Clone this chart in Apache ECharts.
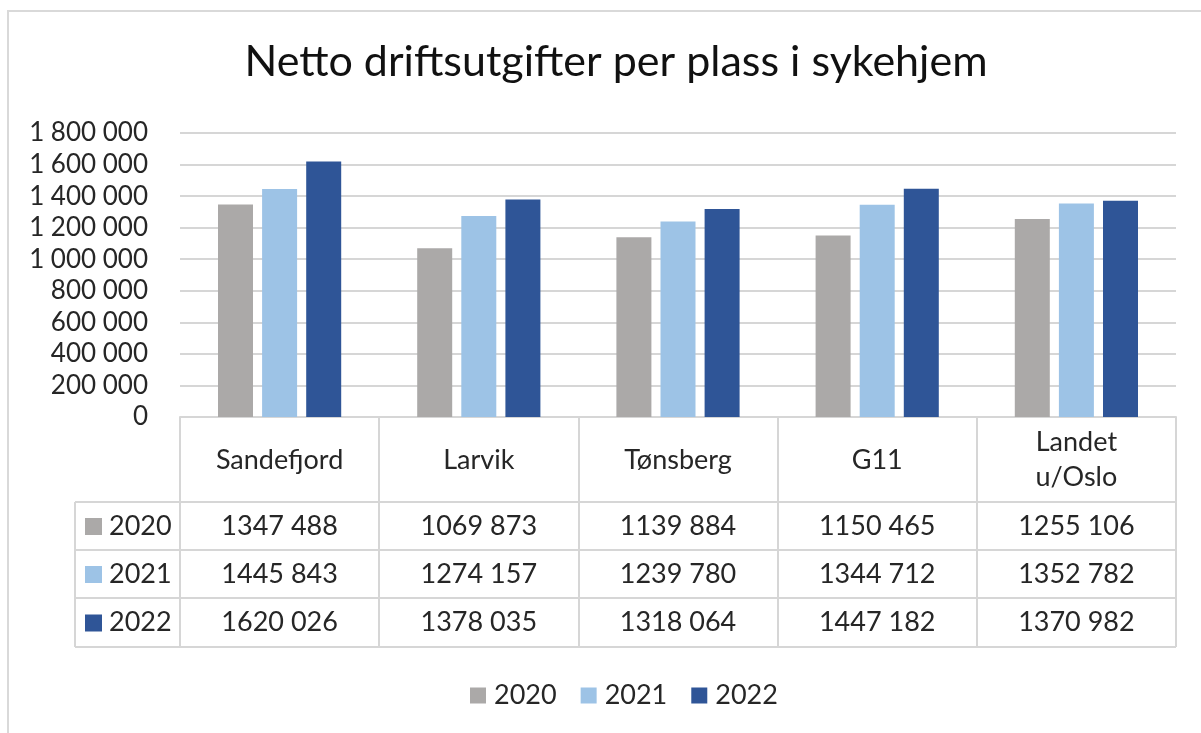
<!DOCTYPE html>
<html>
<head>
<meta charset="utf-8">
<script src="https://cdn.jsdelivr.net/npm/echarts@6/dist/echarts.min.js"></script>
<style>
html,body{margin:0;padding:0;background:#fff;}
#chart{width:1201px;height:733px;}
</style>
</head>
<body>
<div id="chart"></div>
<script>
const titleText = 'Netto driftsutgifter per plass i sykehjem';
const categories = ['Sandefjord', 'Larvik', 'Tønsberg', 'G11', 'Landet\nu/Oslo'];
const seriesNames = ['2020', '2021', '2022'];
const values2020 = [1347488, 1069873, 1139884, 1150465, 1255106];
const values2021 = [1445843, 1274157, 1239780, 1344712, 1352782];
const values2022 = [1620026, 1378035, 1318064, 1447182, 1370982];
const seriesColors = ['#ABA9A8', '#9DC3E6', '#2F5597'];
const yMin = 0, yMax = 1800000, yInterval = 200000;

const allValues = [values2020, values2021, values2022];
const FONT = 'Lato';
const TXT = '#262626';
const LINE = '#d6d6d6';

function fmtAxis(n) {
  return String(n).replace(/\B(?=(\d{3})+(?!\d))/g, ' ');
}
function fmtTable(n) {
  const s = String(n);
  return s.length > 3 ? s.slice(0, s.length - 3) + ' ' + s.slice(-3) : s;
}

const chart = echarts.init(document.getElementById('chart'), null, {renderer: 'canvas'});

const GRID = {left: 180, right: 25, top: 133, bottom: 316};
const option = {
  animation: false,
  backgroundColor: '#fff',
  textStyle: {fontFamily: FONT},
  title: {
    text: titleText,
    left: 611,
    top: 36,
    textAlign: 'center',
    textStyle: {fontFamily: FONT, fontSize: 43, fontWeight: 'normal', color: '#111'}
  },
  legend: {
    data: seriesNames,
    left: 465,
    top: 677,
    itemWidth: 16,
    itemHeight: 16,
    itemGap: 24,
    icon: 'rect',
    textStyle: {fontFamily: FONT, fontSize: 27, color: TXT, padding: [0, 0, 0, 3]}
  },
  grid: GRID,
  xAxis: {
    type: 'category',
    data: categories,
    boundaryGap: true,
    axisLine: {show: true, lineStyle: {color: LINE, width: 2}},
    axisTick: {show: true, interval: 0, length: 230, lineStyle: {color: LINE, width: 2}},
    axisLabel: {
      interval: 0, margin: 43, verticalAlign: 'middle',
      fontFamily: FONT, fontSize: 27, color: TXT, lineHeight: 35
    }
  },
  yAxis: {
    type: 'value',
    min: yMin, max: yMax, interval: yInterval,
    axisLine: {show: false},
    axisTick: {show: false},
    splitLine: {lineStyle: {color: LINE, width: 2}},
    axisLabel: {
      margin: 32, fontFamily: FONT, fontSize: 26, color: TXT,
      formatter: v => fmtAxis(v)
    }
  },
  series: seriesNames.map((name, i) => ({
    name: name,
    type: 'bar',
    data: allValues[i],
    barWidth: 35,
    barGap: '26%',
    itemStyle: {color: seriesColors[i]}
  }))
};
chart.setOption(option);

// Build the data table beneath the category axis
function buildTable() {
  const g = [];
  const rowTops = [502, 550, 598, 647];
  const leftX = 75;
  const plotRight = 1201 - GRID.right;
  // chart border
  g.push({type: 'rect', shape: {x: 8, y: 11, width: 1400, height: 900},
    style: {fill: 'none', stroke: '#d9d9d9', lineWidth: 2}, z: 0, silent: true});
  rowTops.forEach(y => {
    g.push({type: 'line', shape: {x1: leftX, y1: y, x2: plotRight, y2: y},
      style: {stroke: LINE, lineWidth: 2}, z: 5});
  });
  g.push({type: 'line', shape: {x1: leftX, y1: rowTops[0], x2: leftX, y2: rowTops[3]},
    style: {stroke: LINE, lineWidth: 2}, z: 5});
  seriesNames.forEach((name, r) => {
    const cy = (rowTops[r] + rowTops[r + 1]) / 2;
    g.push({type: 'rect', shape: {x: 85, y: cy - 8, width: 17, height: 17},
      style: {fill: seriesColors[r]}, z: 6});
    g.push({type: 'text', x: 109, y: cy,
      style: {text: name, fontFamily: FONT, fontSize: 27, fill: TXT,
        textAlign: 'left', textVerticalAlign: 'middle'}, z: 6});
    allValues[r].forEach((v, c) => {
      const cx = chart.convertToPixel({xAxisIndex: 0}, c);
      g.push({type: 'text', x: cx, y: cy,
        style: {text: fmtTable(v), fontFamily: FONT, fontSize: 27, fill: TXT,
          textAlign: 'center', textVerticalAlign: 'middle'}, z: 6});
    });
  });
  chart.setOption({graphic: g});
}
buildTable();
</script>
</body>
</html>
